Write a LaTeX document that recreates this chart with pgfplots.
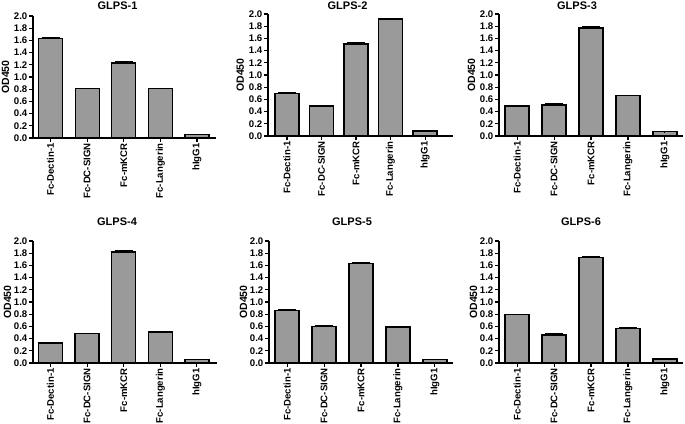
\documentclass[border=0pt]{standalone}
\usepackage{pgfplots}
\pgfplotsset{compat=1.18}
\usepackage{pgfplotstable}
\usepackage{fontspec}
\setmainfont{Liberation Sans}
\definecolor{barfill}{RGB}{154,154,154}

\pgfplotstableread{
x y e
0 1.63 0.01
1 0.81 0.005
2 1.23 0.02
3 0.81 0.005
4 0.06 0.003
}\glpsA
\pgfplotstableread{
x y e
0 0.70 0.02
1 0.49 0.01
2 1.51 0.03
3 1.92 0.01
4 0.08 0.003
}\glpsB
\pgfplotstableread{
x y e
0 0.49 0.01
1 0.51 0.03
2 1.77 0.03
3 0.66 0.01
4 0.07 0.003
}\glpsC
\pgfplotstableread{
x y e
0 0.33 0.005
1 0.48 0.005
2 1.82 0.02
3 0.51 0.005
4 0.06 0.003
}\glpsD
\pgfplotstableread{
x y e
0 0.86 0.02
1 0.60 0.01
2 1.63 0.01
3 0.59 0.005
4 0.06 0.003
}\glpsE
\pgfplotstableread{
x y e
0 0.79 0.01
1 0.46 0.02
2 1.73 0.02
3 0.57 0.005
4 0.065 0.003
}\glpsF

\pgfplotsset{
  panel/.style={
    scale only axis,
    anchor=south west,
    height=122pt,
    ymin=0, ymax=2.0,
    ytick={0,0.2,...,2.01},
    xtick=data,
    xticklabels={Fc-Dectin-1,Fc-DC-SIGN,Fc-mKCR,Fc-Langerin,hIgG1},
    axis x line=bottom, axis y line=left,
    axis line style={-, line width=1.3pt},
    tick style={line width=1.1pt, black},
    tick align=outside,
    major tick length=4pt,
    /pgf/number format/assume math mode=true,
    yticklabel style={/pgf/number format/fixed, /pgf/number format/fixed zerofill, /pgf/number format/precision=1, inner sep=1.5pt},
    ticklabel style={font=\bfseries\fontsize{9.6}{9.6}\selectfont},
    xticklabel style={rotate=90, anchor=east, inner sep=1.2pt},
    ylabel={OD450},
    ylabel style={font=\bfseries\fontsize{10.5}{10.5}\selectfont, at={(axis description cs:-0.15,0.5)}, anchor=center},
    title style={font=\bfseries\fontsize{11}{11}\selectfont, at={(axis description cs:0.5,1)}, anchor=center},
    ybar, bar width=24pt, bar shift=0pt,
  },
  barst/.style={draw=black, line width=1.3pt, fill=barfill,
    error bars/.cd, y dir=plus, y explicit,
    error bar style={line width=1pt, black},
    error mark options={rotate=90, mark size=9pt, line width=1pt, black}},
}

\begin{document}
\begin{tikzpicture}
\useasboundingbox (0,0) rectangle (685pt,423pt);
% top row
\begin{axis}[panel, at={(33pt,285pt)}, width=183pt, xmin=-0.48, xmax=4.52,
  title={GLPS-1}, title style={yshift=4pt, xshift=-7pt}]
\addplot[barst] table[x=x, y=y, y error=e] {\glpsA};
\end{axis}
\begin{axis}[panel, at={(268pt,287pt)}, width=185pt, xmin=-0.55, xmax=4.81,
  title={GLPS-2}, title style={yshift=2pt, xshift=-13pt}]
\addplot[barst] table[x=x, y=y, y error=e] {\glpsB};
\end{axis}
\begin{axis}[panel, at={(499pt,287pt)}, width=184pt, xmin=-0.49, xmax=4.49,
  title={GLPS-3}, title style={yshift=2pt, xshift=-14pt}]
\addplot[barst] table[x=x, y=y, y error=e] {\glpsC};
\end{axis}
% bottom row
\begin{axis}[panel, at={(33pt,60pt)}, width=184pt, xmin=-0.48, xmax=4.55,
  title={GLPS-4}, title style={yshift=13pt, xshift=-8pt},
  ylabel style={at={(axis description cs:-0.138,0.5)}}]
\addplot[barst] table[x=x, y=y, y error=e] {\glpsD};
\end{axis}
\begin{axis}[panel, at={(269pt,60pt)}, width=184pt, xmin=-0.49, xmax=4.49,
  title={GLPS-5}, title style={yshift=13pt, xshift=-9pt},
  ylabel style={at={(axis description cs:-0.138,0.5)}}]
\addplot[barst] table[x=x, y=y, y error=e] {\glpsE};
\end{axis}
\begin{axis}[panel, at={(499pt,60pt)}, width=184pt, xmin=-0.49, xmax=4.49,
  title={GLPS-6}, title style={yshift=13pt, xshift=-10pt},
  ylabel style={at={(axis description cs:-0.138,0.5)}}]
\addplot[barst] table[x=x, y=y, y error=e] {\glpsF};
\end{axis}
\end{tikzpicture}
\end{document}
